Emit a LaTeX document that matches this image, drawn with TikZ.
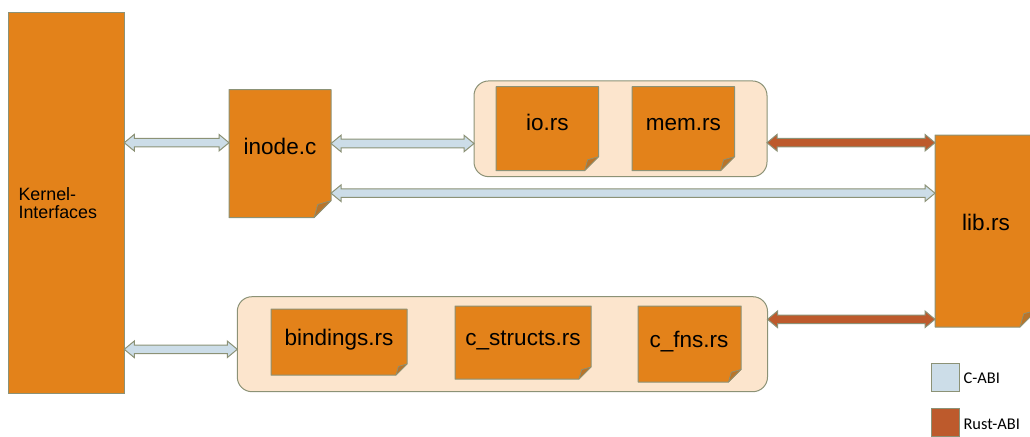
\documentclass[tikz,border=0pt]{standalone}
\usepackage{fontspec}
\setmainfont{Liberation Sans}
\newfontfamily\legendfont{Carlito}
\usetikzlibrary{calc}
\pgfdeclarelayer{background}
\pgfsetlayers{background,main}
\definecolor{docorange}{HTML}{E3821A}
\definecolor{docfold}{HTML}{B8742A}
\definecolor{edgegray}{HTML}{8C9276}
\definecolor{grpfill}{HTML}{FCE5CD}
\definecolor{cabi}{HTML}{CCDDE8}
\definecolor{rustabi}{HTML}{BD5A2C}
% document shape with folded corner: node name, fold size in px
\newcommand\docshape[2]{%
  \filldraw[docbox] (#1.north west) -- (#1.north east) -- ([yshift=#2*0.75pt]#1.south east)
    -- ([xshift=-#2*0.75pt]#1.south east) -- (#1.south west) -- cycle;
  \filldraw[foldbox] ([xshift=-#2*0.75pt]#1.south east) -- ([yshift=#2*0.75pt]#1.south east)
    -- ([xshift=-#2*0.585pt,yshift=#2*0.585pt]#1.south east) -- cycle;}
% horizontal double block arrow: style, left node, right node, y in px
\newcommand\abiarrow[4]{%
  \filldraw[#1] let \p1=(#2.east), \p2=(#3.west), \p3=(0,#4) in
    (\x1,\y3) -- (\x1+7.5pt,\y3+6.2pt) -- (\x1+7.5pt,\y3+3.2pt) -- (\x2-7.5pt,\y3+3.2pt)
    -- (\x2-7.5pt,\y3+6.2pt) -- (\x2,\y3) -- (\x2-7.5pt,\y3-6.2pt) -- (\x2-7.5pt,\y3-3.2pt)
    -- (\x1+7.5pt,\y3-3.2pt) -- (\x1+7.5pt,\y3-6.2pt) -- cycle;}
\begin{document}
\begin{tikzpicture}[x=0.75pt,y=-0.75pt,
  box/.style={rectangle, inner sep=0pt, outer sep=0pt, draw=none},
  docbox/.style={fill=docorange, draw=edgegray, line width=0.75pt, line join=round},
  foldbox/.style={fill=docfold, draw=edgegray, line width=0.5pt, line join=round},
  grp/.style={rectangle, rounded corners=11pt, fill=grpfill, draw=edgegray, line width=0.75pt, inner sep=0pt, outer sep=0pt},
  lbl/.style={font=\fontsize{16.9}{20}\selectfont, inner sep=0pt, anchor=base},
  carrow/.style={fill=cabi, draw=edgegray, line width=0.75pt},
  rarrow/.style={fill=rustabi, draw=edgegray, line width=0.75pt},
  legbox/.style={rectangle, inner sep=0pt, draw=edgegray, line width=0.75pt, minimum width=27.5*0.75pt, minimum height=28.5*0.75pt},
  legtext/.style={anchor=base west, inner sep=0pt, font=\legendfont\fontsize{12.3}{14}\selectfont}]
\useasboundingbox (0,0) rectangle (1030,436);

% kernel interfaces
\node[box, fill=docorange, draw=edgegray, line width=0.75pt, minimum width=115.5*0.75pt, minimum height=381*0.75pt] (kern) at (66.5,202.5) {};
\node[anchor=north west, inner sep=0pt, align=left, font=\fontsize{13.4}{13.7}\selectfont] (kern-t) at (18.3,187) {Kernel-\\Interfaces};

% document boxes (geometry)
\node[box, minimum width=102*0.75pt, minimum height=128*0.75pt] (inode) at (280,153.7) {};
\node[box, minimum width=102.5*0.75pt, minimum height=84*0.75pt] (io) at (547.3,128.7) {};
\node[box, minimum width=102.5*0.75pt, minimum height=84*0.75pt] (mem) at (683.3,128.7) {};
\node[box, minimum width=102*0.75pt, minimum height=192*0.75pt] (lib) at (986,231) {};
\node[box, minimum width=136*0.75pt, minimum height=66*0.75pt] (bind) at (339,342) {};
\node[box, minimum width=136*0.75pt, minimum height=73*0.75pt] (cstr) at (523,342.5) {};
\node[box, minimum width=103*0.75pt, minimum height=76*0.75pt] (cfns) at (689.5,344) {};

% labels
\node[lbl] (inode-t) at (280,154) {inode.c};
\node[lbl] (io-t) at (547.3,130.7) {io.rs};
\node[lbl] (mem-t) at (683.3,130.7) {mem.rs};
\node[lbl] (lib-t) at (986,230) {lib.rs};
\node[lbl] (bind-t) at (339,345) {bindings.rs};
\node[lbl] (cstr-t) at (523,345) {c\_structs.rs};
\node[lbl] (cfns-t) at (689,347) {c\_fns.rs};

\begin{pgfonlayer}{background}
  \node[grp, minimum width=293*0.75pt, minimum height=95.7*0.75pt] (tgroup) at (620.5,128.8) {};
  \node[grp, minimum width=530.2*0.75pt, minimum height=95*0.75pt] (bgroup) at (502.4,344.2) {};
  \docshape{inode}{17}
  \docshape{io}{14}
  \docshape{mem}{14}
  \docshape{lib}{17}
  \docshape{bind}{11}
  \docshape{cstr}{12}
  \docshape{cfns}{12.5}
\end{pgfonlayer}

% connectors
\abiarrow{carrow}{kern}{inode}{142.7}
\abiarrow{carrow}{inode}{tgroup}{143.5}
\abiarrow{rarrow}{tgroup}{lib}{142.7}
\abiarrow{carrow}{inode}{lib}{193.2}
\abiarrow{carrow}{kern}{bgroup}{349.3}
\abiarrow{rarrow}{bgroup}{lib}{319.3}

% legend
\node[legbox, fill=cabi] (leg-c) at (945.5,377.5) {};
\node[legtext] (leg-c-t) at (963.3,383.3) {C-ABI};
\node[legbox, fill=rustabi] (leg-r) at (945.5,422.5) {};
\node[legtext] (leg-r-t) at (963.3,429.3) {Rust-ABI};
\end{tikzpicture}
\end{document}
